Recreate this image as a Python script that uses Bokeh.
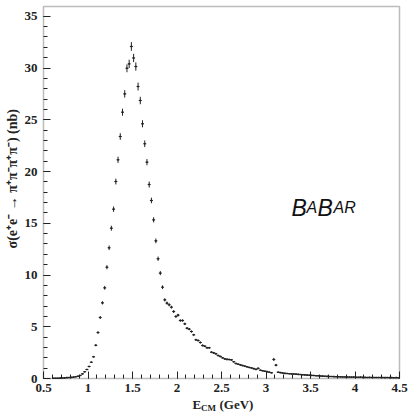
import math
from bokeh.plotting import figure
from bokeh.models import (Range1d, Label, FixedTicker, LinearAxis, BoxAnnotation,
                          CustomJSTickFormatter, ColumnDataSource)
from bokeh.embed import file_html
from bokeh.resources import INLINE

# Bin centres (GeV)
energy = [
    0.6125, 0.6375, 0.6625, 0.6875, 0.7125, 0.7375, 0.7625, 0.7875,
    0.8125, 0.8375, 0.8625, 0.8875, 0.9125, 0.9375, 0.9625, 0.9875,
    1.0125, 1.0375, 1.0625, 1.0875, 1.1125, 1.1375, 1.1625, 1.1875,
    1.2125, 1.2375, 1.2625, 1.2875, 1.3125, 1.3375, 1.3625, 1.3875,
    1.4125, 1.4375, 1.4625, 1.4875, 1.5125, 1.5375, 1.5625, 1.5875,
    1.6125, 1.6375, 1.6625, 1.6875, 1.7125, 1.7375, 1.7625, 1.7875,
    1.8125, 1.8375, 1.8625, 1.8875, 1.9125, 1.9375, 1.9625, 1.9875,
    2.0125, 2.0375, 2.0625, 2.0875, 2.1125, 2.1375, 2.1625, 2.1875,
    2.2125, 2.2375, 2.2625, 2.2875, 2.3125, 2.3375, 2.3625, 2.3875,
    2.4125, 2.4375, 2.4625, 2.4875, 2.5125, 2.5375, 2.5625, 2.5875,
    2.6125, 2.6375, 2.6625, 2.6875, 2.7125, 2.7375, 2.7625, 2.7875,
    2.8125, 2.8375, 2.8625, 2.8875, 2.9125, 2.9375, 2.9625, 2.9875,
    3.0125, 3.0375, 3.0625, 3.0875, 3.1125, 3.1375, 3.1625, 3.1875,
    3.2125, 3.2375, 3.2625, 3.2875, 3.3125, 3.3375, 3.3625, 3.3875,
    3.4125, 3.4375, 3.4625, 3.4875, 3.5125, 3.5375, 3.5625, 3.5875,
    3.6125, 3.6375, 3.6625, 3.6875, 3.7125, 3.7375, 3.7625, 3.7875,
    3.8125, 3.8375, 3.8625, 3.8875, 3.9125, 3.9375, 3.9625, 3.9875,
    4.0125, 4.0375, 4.0625, 4.0875, 4.1125, 4.1375, 4.1625, 4.1875,
    4.2125, 4.2375, 4.2625, 4.2875, 4.3125, 4.3375, 4.3625, 4.3875,
    4.4125, 4.4375, 4.4625, 4.4875,
]

# Cross section (nb)
sigma = [
    0.02, 0.03, 0.03, 0.04, 0.05, 0.06, 0.08, 0.09,
    0.11, 0.13, 0.17, 0.22, 0.29, 0.45, 0.65, 0.87,
    1.16, 1.57, 2.10, 3.21, 4.44, 5.89, 7.31, 8.76,
    10.75, 12.63, 14.52, 16.36, 19.03, 21.13, 23.38, 25.73,
    27.50, 29.97, 30.40, 32.08, 30.97, 30.14, 28.21, 26.86,
    24.61, 22.68, 20.90, 18.74, 17.20, 15.33, 13.30, 11.57,
    10.18, 8.82, 7.60, 7.28, 7.12, 6.89, 6.47, 5.99,
    6.12, 5.60, 5.60, 5.28, 4.86, 4.77, 4.54, 4.22,
    3.74, 3.67, 3.48, 3.19, 3.12, 2.97, 2.97, 2.54,
    2.48, 2.39, 2.22, 2.13, 2.00, 1.90, 1.85, 1.83,
    1.80, 1.62, 1.45, 1.38, 1.32, 1.25, 1.19, 1.13,
    1.07, 1.02, 0.95, 0.88, 0.98, 0.80, 0.75, 0.70,
    0.66, 0.60, 0.55, 1.84, 1.29, 0.61, 0.57, 0.53,
    0.50, 0.48, 0.46, 0.45, 0.43, 0.42, 0.40, 0.38,
    0.36, 0.35, 0.33, 0.32, 0.30, 0.29, 0.27, 0.26,
    0.24, 0.23, 0.22, 0.21, 0.20, 0.19, 0.18, 0.17,
    0.17, 0.16, 0.15, 0.15, 0.14, 0.14, 0.13, 0.14,
    0.12, 0.12, 0.13, 0.11, 0.11, 0.10, 0.11, 0.10,
    0.10, 0.09, 0.10, 0.09, 0.09, 0.08, 0.09, 0.08,
    0.08, 0.07, 0.08, 0.07,
]

# Statistical errors (nb)
sigma_err = [
    0.02, 0.02, 0.02, 0.02, 0.02, 0.02, 0.02, 0.02,
    0.02, 0.02, 0.03, 0.03, 0.03, 0.04, 0.05, 0.05,
    0.06, 0.07, 0.08, 0.10, 0.12, 0.14, 0.16, 0.18,
    0.20, 0.22, 0.24, 0.26, 0.28, 0.30, 0.32, 0.34,
    0.36, 0.38, 0.40, 0.42, 0.40, 0.40, 0.38, 0.36,
    0.34, 0.32, 0.30, 0.29, 0.27, 0.25, 0.23, 0.21,
    0.20, 0.18, 0.16, 0.15, 0.15, 0.14, 0.14, 0.13,
    0.13, 0.12, 0.12, 0.12, 0.11, 0.11, 0.11, 0.10,
    0.10, 0.10, 0.10, 0.10, 0.09, 0.09, 0.09, 0.09,
    0.09, 0.09, 0.08, 0.08, 0.08, 0.08, 0.08, 0.07,
    0.07, 0.07, 0.07, 0.07, 0.07, 0.07, 0.07, 0.07,
    0.06, 0.06, 0.06, 0.06, 0.06, 0.06, 0.06, 0.06,
    0.06, 0.06, 0.05, 0.15, 0.12, 0.05, 0.05, 0.05,
    0.04, 0.04, 0.04, 0.04, 0.04, 0.04, 0.04, 0.04,
    0.04, 0.04, 0.04, 0.04, 0.04, 0.04, 0.04, 0.04,
    0.03, 0.03, 0.03, 0.03, 0.03, 0.03, 0.03, 0.03,
    0.03, 0.03, 0.03, 0.03, 0.03, 0.03, 0.03, 0.03,
    0.03, 0.03, 0.03, 0.03, 0.03, 0.03, 0.03, 0.03,
    0.03, 0.03, 0.03, 0.03, 0.03, 0.03, 0.03, 0.03,
    0.03, 0.03, 0.03, 0.03,
]

# Axis ticks
x_major = [0.5, 1.0, 1.5, 2.0, 2.5, 3.0, 3.5, 4.0, 4.5]
y_major = [0, 5, 10, 15, 20, 25, 30, 35]
x_minor = [round(0.5 + 0.1 * i, 2) for i in range(41)]
y_minor = list(range(0, 36))

x_label_main = "E"
x_label_sub = "CM"
x_label_unit = "(GeV)"
y_label = "σ(e⁺e⁻ → π⁺π⁻π⁺π⁻) (nb)"
logo_parts = [("B", "23px", 0), ("A", "16px", 15), ("B", "23px", 26), ("AR", "16px", 42)]

src = ColumnDataSource(dict(
    x=energy, y=sigma,
    lo=[s - e for s, e in zip(sigma, sigma_err)],
    hi=[s + e for s, e in zip(sigma, sigma_err)],
))

FONT = "Liberation Serif"
INK = "#222222"

# The frame covers the whole canvas; the plotting box is drawn inside it.
W, H = 408, 415
XPX = 89.0     # px per GeV
YPX = 10.35    # px per nb
x0 = 0.5 - 43 / XPX
x1 = x0 + W / XPX
y0 = -(H - 378) / YPX
y1 = y0 + H / YPX
y_top = 35.94

p = figure(width=W, height=H, output_backend="svg", toolbar_location=None,
           x_range=Range1d(x0, x1), y_range=Range1d(y0, y1),
           x_axis_type=None, y_axis_type=None,
           min_border_left=0, min_border_right=0, min_border_top=0, min_border_bottom=0,
           background_fill_color="white", border_fill_color="white")
p.outline_line_color = None

p.add_layout(BoxAnnotation(left=0.5, right=4.5, bottom=0, top=y_top,
                           fill_color=None, line_color=INK, line_width=1.5))

p.segment(x0="x", y0="lo", x1="x", y1="hi", source=src, line_color=INK, line_width=1)
p.scatter(x="x", y="y", source=src, marker="dash", size=3, line_color=INK, line_width=1)
p.scatter(x="x", y="y", source=src, marker="square", size=1.6, fill_color=INK, line_color=None)

fmt = CustomJSTickFormatter(code="return tick.toString();")
xax = LinearAxis(fixed_location=0,
                 ticker=FixedTicker(ticks=x_major, minor_ticks=x_minor))
yax = LinearAxis(fixed_location=0.5,
                 ticker=FixedTicker(ticks=y_major, minor_ticks=y_minor))
for ax in (xax, yax):
    ax.formatter = fmt
    ax.axis_line_color = None
    ax.major_tick_in = 7
    ax.major_tick_out = 0
    ax.minor_tick_in = 4
    ax.minor_tick_out = 0
    ax.major_tick_line_color = INK
    ax.minor_tick_line_color = INK
    ax.major_label_text_font = FONT
    ax.major_label_text_font_style = "bold"
    ax.major_label_text_font_size = "13px"
    ax.major_label_text_color = INK
xax.major_label_standoff = 5
yax.major_label_standoff = 6
p.add_layout(xax, "below")
p.add_layout(yax, "left")

# y axis title (rotated)
p.add_layout(Label(x=x0 + 12 / XPX, y=19.3, text=y_label, angle=math.pi / 2,
                   text_align="center", text_baseline="middle",
                   text_font=FONT, text_font_style="bold", text_font_size="14px",
                   text_color=INK))

# x axis title "E_CM (GeV)"
p.add_layout(Label(x=x0 + 192 / XPX, y=-2.51, text=x_label_main, text_align="left",
                   text_baseline="alphabetic", text_font=FONT, text_font_style="bold",
                   text_font_size="13px", text_color=INK))
p.add_layout(Label(x=x0 + 200.5 / XPX, y=-2.88, text=x_label_sub, text_align="left",
                   text_baseline="alphabetic", text_font=FONT, text_font_style="bold",
                   text_font_size="9px", text_color=INK))
p.add_layout(Label(x=x0 + 219 / XPX, y=-2.51, text=x_label_unit, text_align="left",
                   text_baseline="alphabetic", text_font=FONT, text_font_style="bold",
                   text_font_size="13px", text_color=INK))

for txt, size, dx in logo_parts:
    p.add_layout(Label(x=x0 + 291 / XPX, y=16.52, text=txt, x_offset=dx,
                       text_font="Liberation Sans", text_font_style="italic",
                       text_font_size=size, text_color="#111111",
                       text_baseline="alphabetic"))

open("out.html", "w").write(file_html(p, INLINE))
